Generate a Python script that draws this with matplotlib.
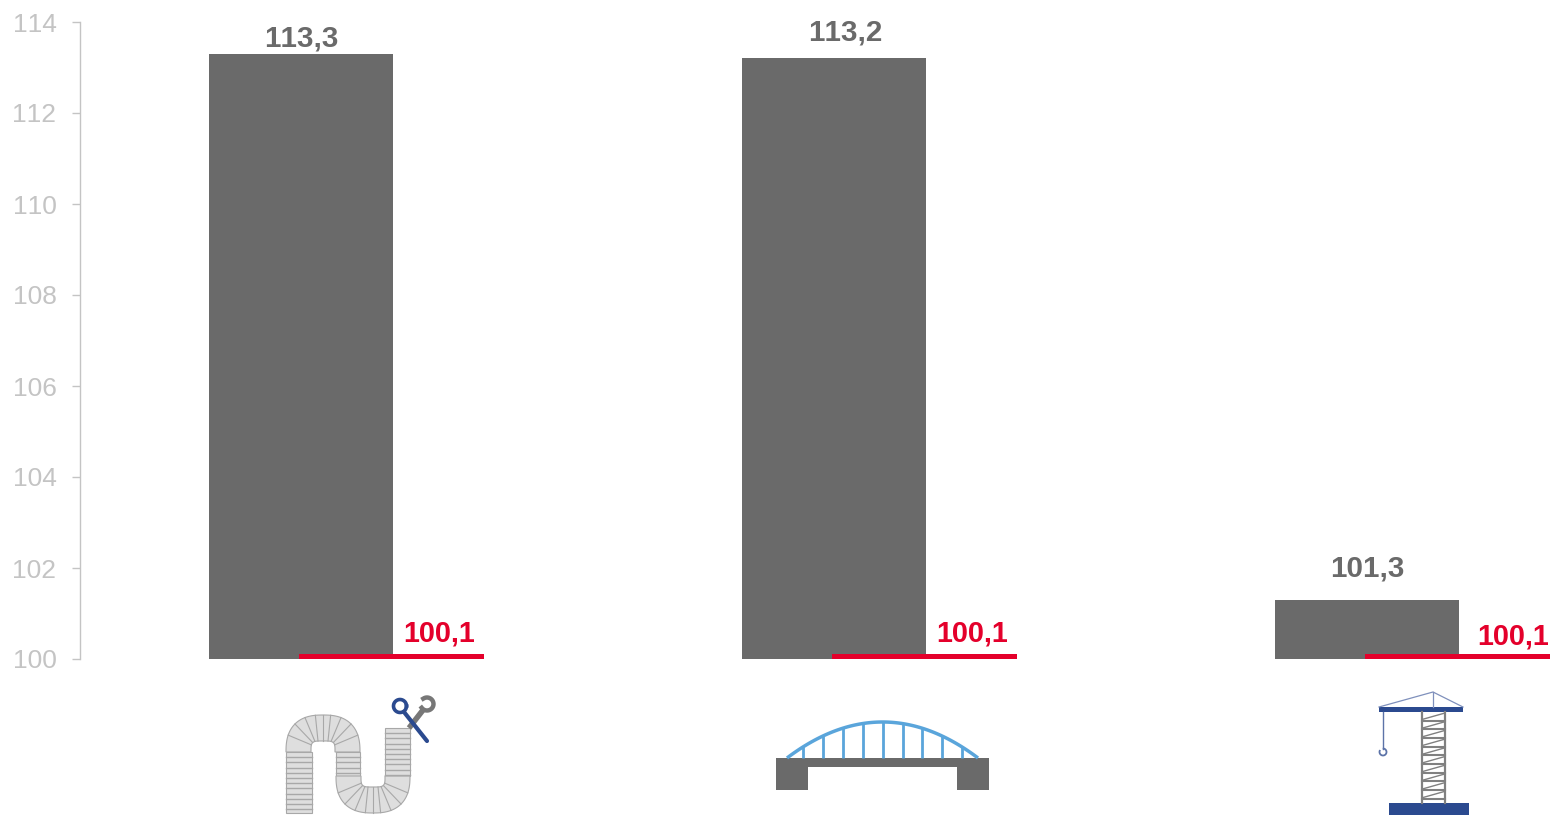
import numpy as np
import matplotlib
matplotlib.use("Agg")
import matplotlib.pyplot as plt
from matplotlib.patches import Polygon, Rectangle

plt.rcParams['font.family'] = ['Liberation Sans', 'DejaVu Sans']
plt.rcParams['text.kerning_factor'] = 20  # reference text has no pair kerning

W, H = 1550, 815

# data
categories = [0, 1, 2]
values = [113.3, 113.2, 101.3]
ref_values = [100.1, 100.1, 100.1]
value_labels = ["113,3", "113,2", "101,3"]
ref_labels = ["100,1", "100,1", "100,1"]
yticks = [100, 102, 104, 106, 108, 110, 112, 114]

GREY = "#6A6A6A"
RED = "#E4002B"
TICK = "#C4C4C4"
BLUE = "#2B4A8F"
SKY = "#5AA5DB"
PIPE = "#DEDEDE"
PIPE_LINE = "#A8A8A8"

fig = plt.figure(figsize=(W / 100, H / 100), dpi=100)

# axes box in pixels: x 80..1550, y 22..659
ax = fig.add_axes([80 / W, 1 - 659 / H, (W - 80) / W, (659 - 22) / H])
cat_px = 533
ax.set_xlim((80 - 301) / cat_px, (W - 301) / cat_px)
ax.set_ylim(100, 114)

ax.bar(categories, np.array(values) - 100, bottom=100, width=184 / cat_px, color=GREY, zorder=2)

# red reference segments, shifted right of each bar
ref_x = [c + 90.5 / cat_px for c in categories]
ax.bar(ref_x, np.array(ref_values) - 100, bottom=100, width=185 / cat_px, color=RED,
       zorder=3, clip_on=False)

for s in ['top', 'right', 'bottom']:
    ax.spines[s].set_visible(False)
ax.spines['left'].set_color(TICK)
ax.spines['left'].set_linewidth(1)
ax.set_xticks([])
ax.set_yticks(yticks)
ax.tick_params(axis='y', direction='out', length=6, width=1, color=TICK,
               labelcolor=TICK, labelsize=19, pad=11)

# value labels, offsets in pixels from the top of the bar
value_off = [(0, -17), (11, -28), (0, -33)]
for c, v, t, o in zip(categories, values, value_labels, value_off):
    ax.annotate(t, (c, v), xytext=(o[0] * 0.72, (-o[1] - 2) * 0.72), textcoords='offset points',
                ha='center', va='center', fontsize=21.3, fontweight='bold', color=GREY,
                annotation_clip=False)

ref_off = [(138, 21), (138, 21), (146, 18)]
for c, v, t, o in zip(categories, ref_values, ref_labels, ref_off):
    ax.annotate(t, (c, v), xytext=(o[0] * 0.72, o[1] * 0.72), textcoords='offset points',
                ha='center', va='center', fontsize=20.7, fontweight='bold', color=RED,
                annotation_clip=False)

# icons, drawn in pixel coordinates on an overlay
ic = fig.add_axes([0, 0, 1, 1], facecolor='none')
ic.set_xlim(0, W)
ic.set_ylim(H, 0)
ic.axis('off')


def sup(t, a, b, n):
    # point on a superellipse, t in degrees
    r = np.radians(t)
    c, s = np.cos(r), np.sin(r)
    return a * np.sign(c) * np.abs(c) ** (2 / n), b * np.sign(s) * np.abs(s) ** (2 / n)


def pipe_leg(x0, x1, y0, y1, step=5.2):
    ic.add_patch(Rectangle((x0, y0), x1 - x0, y1 - y0, fc=PIPE, ec=PIPE_LINE, lw=0.8))
    for y in np.arange(y0 + step, y1, step):
        ic.plot([x0, x1], [y, y], color=PIPE_LINE, lw=1.0)


def pipe_bend(cx, cy, flip):
    # flip=-1 draws the arch upwards, flip=1 the U downwards
    t = np.linspace(0, 180, 90)
    ox, oy = sup(t, 37, 37, 2.5)
    ix, iy = sup(t, 12, 11, 4.5)
    pts = np.vstack([np.c_[cx + ox, cy + flip * oy], np.c_[cx + ix, cy + flip * iy][::-1]])
    ic.add_patch(Polygon(pts, closed=True, fc=PIPE, ec=PIPE_LINE, lw=0.8))
    for a in [22, 45, 66, 82, 90, 98, 114, 135, 158]:
        ox, oy = sup(a, 37, 37, 2.5)
        ix, iy = sup(a, 12, 11, 4.5)
        ic.plot([cx + ix, cx + ox], [cy + flip * iy, cy + flip * oy], color=PIPE_LINE, lw=0.8)


pipe_leg(286, 312, 752, 813)
pipe_leg(336, 360, 752, 776)
pipe_leg(385, 410, 728, 776)
pipe_bend(323, 752, -1)
pipe_bend(373, 776, 1)

# wrench and key
ic.plot([409, 423], [728, 710], color="#777777", lw=4, solid_capstyle='butt')
a = np.radians(np.linspace(-145, 125, 30))
ic.plot(427 + 6.5 * np.cos(a), 704 - 6.5 * np.sin(a), color="#777777", lw=3.2)
a = np.radians(np.linspace(0, 360, 50))
ic.plot(400 + 6.5 * np.cos(a), 706 + 6.5 * np.sin(a), color=BLUE, lw=2.6)
ic.plot([404, 427], [712, 741], color=BLUE, lw=3, solid_capstyle='round')

# bridge
ic.add_patch(Rectangle((776, 758), 213, 9, fc=GREY, ec='none'))
ic.add_patch(Rectangle((776, 758), 32, 32, fc=GREY, ec='none'))
ic.add_patch(Rectangle((957, 758), 32, 32, fc=GREY, ec='none'))
bx = np.linspace(787, 978, 80)
arch = lambda x: 758 - 36 * (1 - ((x - 882.5) / 95.5) ** 2)
ic.plot(bx, arch(bx), color=SKY, lw=2.5, solid_capstyle='butt')
for x in [803, 823, 843, 863, 883, 903, 922, 942, 962]:
    ic.plot([x, x], [arch(x), 758], color=SKY, lw=2, solid_capstyle='butt')

# crane
ic.plot([1379, 1433, 1463], [707, 692, 707], color="#7F90BC", lw=0.9)
ic.plot([1433, 1433], [692, 707], color="#7F90BC", lw=0.9)
ic.add_patch(Rectangle((1379, 707), 84, 5, fc=BLUE, ec='none'))
ic.plot([1383, 1383], [712, 749], color="#5C73A8", lw=1)
a = np.radians(np.linspace(80, -200, 30))
ic.plot(1383 + 3.5 * np.cos(a), 752 - 3.5 * np.sin(a), color="#5C73A8", lw=1.3)
ic.plot([1422, 1422], [712, 803], color="#808080", lw=1.6)
ic.plot([1445, 1445], [712, 803], color="#808080", lw=1.6)
for y in np.arange(720.5, 803, 8.7):
    ic.plot([1422, 1445], [y, y], color="#808080", lw=1.5)
    ic.plot([1422, 1445], [y - 1, y - 7.5], color="#808080", lw=1.0)
ic.add_patch(Rectangle((1389, 803), 80, 12, fc=BLUE, ec='none'))

fig.savefig("out.png", dpi=100)
